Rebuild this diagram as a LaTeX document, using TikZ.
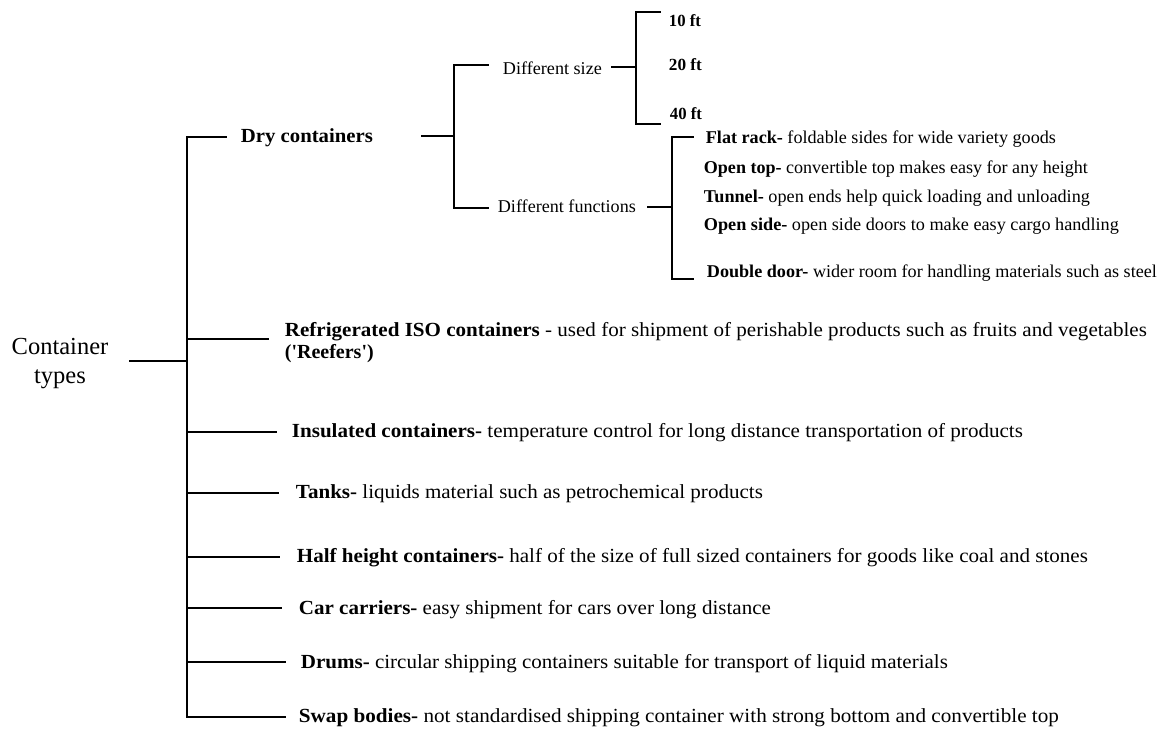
\documentclass[tikz,border=0pt]{standalone}
\usepackage{fontspec}
\setmainfont{Liberation Serif}
\usepackage{graphicx}
% stretch or squeeze a line of text to a given width, keeping its height
\newcommand{\fitto}[2]{\resizebox{#1}{\height}{#2}}

\begin{document}
\begin{tikzpicture}[x=1pt, y=-1pt, line width=1.8pt,
  rootlbl/.style={inner sep=0pt, align=center, font=\fontsize{24.5}{29}\selectfont},
  mainlbl/.style={inner sep=0pt, anchor=west, font=\fontsize{20}{22}\selectfont},
  sublbl/.style={inner sep=0pt, anchor=west, font=\fontsize{18}{21}\selectfont},
  sizelbl/.style={inner sep=0pt, anchor=west, font=\fontsize{17}{20}\selectfont\bfseries},
  link/.style={draw=black, line cap=rect}]
\useasboundingbox (0,0) rectangle (1161,729);

% ---- labels ----
\node[rootlbl] (root) at (60,364) {Container\\types};

\node[mainlbl] (dry) at (240,138) {\fitto{132pt}{\bfseries Dry containers}};
\node[sublbl] (dsize) at (502,68) {\fitto{99pt}{Different size}};
\node[sublbl] (dfunc) at (497,206) {\fitto{138pt}{Different functions}};

\node[sizelbl] (s10) at (668,21) {\fitto{32pt}{10 ft}};
\node[sizelbl] (s20) at (668,65) {\fitto{33pt}{20 ft}};
\node[sizelbl] (s40) at (669,114) {\fitto{32pt}{40 ft}};

\node[sublbl] (flat) at (705,139) {\fitto{350pt}{\textbf{Flat rack-} foldable sides for wide variety goods}};
\node[sublbl] (otop) at (703,169) {\fitto{384pt}{\textbf{Open top-} convertible top makes easy for any height}};
\node[sublbl] (tunnel) at (703,198) {\fitto{386pt}{\textbf{Tunnel-} open ends help quick loading and unloading}};
\node[sublbl] (oside) at (703,226) {\fitto{415pt}{\textbf{Open side-} open side doors to make easy cargo handling}};
\node[sublbl] (ddoor) at (706,273) {\fitto{450pt}{\textbf{Double door-} wider room for handling materials such as steel}};

\node[mainlbl, align=left] (refr) at (284,343) {\fitto{862pt}{\textbf{Refrigerated ISO containers} - used for shipment of perishable products such as fruits and vegetables}\\\textbf{(\textquotesingle Reefers\textquotesingle)}};
\node[mainlbl] (insul) at (291,433) {\fitto{731pt}{\textbf{Insulated containers-} temperature control for long distance transportation of products}};
\node[mainlbl] (tanks) at (295,494) {\fitto{467pt}{\textbf{Tanks-} liquids material such as petrochemical products}};
\node[mainlbl] (half) at (296,558) {\fitto{791pt}{\textbf{Half height containers-} half of the size of full sized containers for goods like coal and stones}};
\node[mainlbl] (car) at (298,610) {\fitto{472pt}{\textbf{Car carriers-} easy shipment for cars over long distance}};
\node[mainlbl] (drums) at (300,664) {\fitto{647pt}{\textbf{Drums-} circular shipping containers suitable for transport of liquid materials}};
\node[mainlbl] (swap) at (298,718) {\fitto{760pt}{\textbf{Swap bodies-} not standardised shipping container with strong bottom and convertible top}};

% ---- junction points ----
\coordinate (root-out) at (130,361);
\coordinate (tk-root) at (187,361);
\coordinate (tk-dry) at (187,137);
\coordinate (tk-refr) at (187,339);
\coordinate (tk-insul) at (187,432);
\coordinate (tk-tanks) at (187,493);
\coordinate (tk-half) at (187,557);
\coordinate (tk-car) at (187,608);
\coordinate (tk-drums) at (187,662);
\coordinate (tk-swap) at (187,717);

\coordinate (dry-end) at (226,137);
\coordinate (refr-end) at (268,339);
\coordinate (insul-end) at (276,432);
\coordinate (tanks-end) at (278,493);
\coordinate (half-end) at (279,557);
\coordinate (car-end) at (281,608);
\coordinate (drums-end) at (285,662);
\coordinate (swap-end) at (285,717);

\coordinate (dry-out) at (422,136);
\coordinate (dk-mid) at (454,136);
\coordinate (dk-top) at (454,65);
\coordinate (dk-bot) at (454,208);
\coordinate (dsize-end) at (488,65);
\coordinate (dfunc-end) at (488,208);

\coordinate (dsize-out) at (612,67);
\coordinate (sk-mid) at (636,67);
\coordinate (sk-top) at (636,12);
\coordinate (sk-bot) at (636,124);
\coordinate (s10-end) at (660,12);
\coordinate (s40-end) at (660,124);

\coordinate (dfunc-out) at (648,207);
\coordinate (fk-mid) at (672,207);
\coordinate (fk-top) at (672,137);
\coordinate (fk-bot) at (672,279);
\coordinate (flat-end) at (693,137);
\coordinate (ddoor-end) at (693,279);

% ---- connectors ----
\draw[link] (root-out) -- (tk-root);
\draw[link] (tk-dry) -- (tk-swap);
\draw[link, line width=2.3pt] (tk-root) -- (tk-swap);
\foreach \b in {dry, refr, insul, tanks, half, car, drums, swap}
  \draw[link] (tk-\b) -- (\b-end);

\draw[link] (dry-out) -- (dk-mid);
\draw[link] (dsize-end) -- (dk-top) -- (dk-bot) -- (dfunc-end);

\draw[link] (dsize-out) -- (sk-mid);
\draw[link] (s10-end) -- (sk-top) -- (sk-bot) -- (s40-end);

\draw[link] (dfunc-out) -- (fk-mid);
\draw[link] (flat-end) -- (fk-top) -- (fk-bot) -- (ddoor-end);
\end{tikzpicture}
\end{document}
